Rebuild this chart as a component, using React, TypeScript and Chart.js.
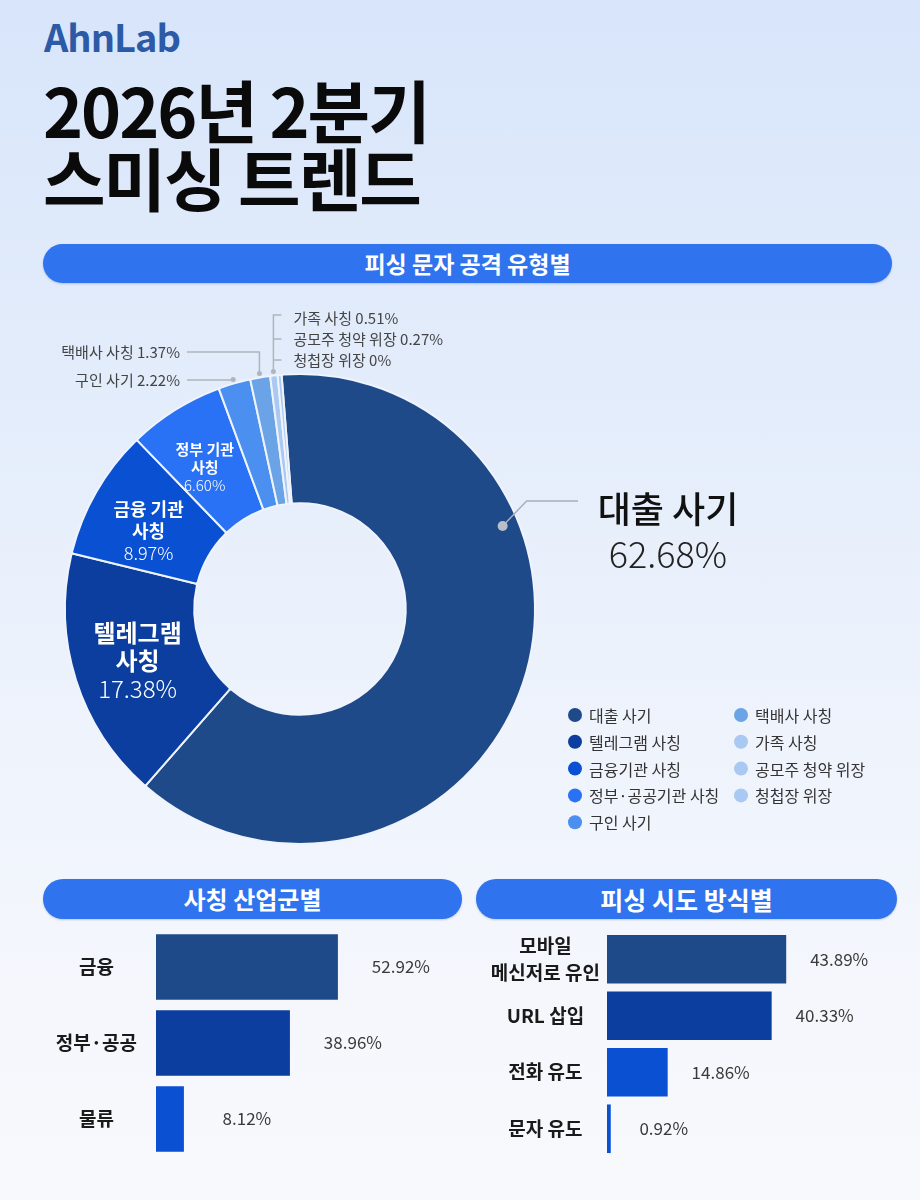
import React, { useEffect, useRef } from 'react';
import { Chart, registerables } from 'chart.js';

Chart.register(...registerables);

const FONT = '"Noto Sans CJK KR", "Noto Sans", sans-serif';

// ---- Data ----
const typeLabels = ['대출 사기', '텔레그램 사칭', '금융기관 사칭', '정부·공공기관 사칭', '구인 사기', '택배사 사칭', '가족 사칭', '공모주 청약 위장', '청첩장 위장'];
const typeValues = [62.68, 17.38, 8.97, 6.6, 2.22, 1.37, 0.51, 0.27, 0];
const typeColors = ['#1f4a8a', '#0b3e9e', '#0a50d2', '#2a72f5', '#4b8ff0', '#6aa3e6', '#a9c8f2', '#a9c8f2', '#a9c8f2'];
const sliceLabelLines = [['대출 사기'], ['텔레그램', '사칭'], ['금융 기관', '사칭'], ['정부 기관', '사칭'], ['구인 사기'], ['택배사 사칭'], ['가족 사칭'], ['공모주 청약 위장'], ['청첩장 위장']];

const industryLabels = ['금융', '정부·공공', '물류'];
const industryValues = [52.92, 38.96, 8.12];
const industryColors = ['#1f4a8a', '#0b3e9e', '#0a50d2'];

const methodLabels = [['모바일', '메신저로 유인'], 'URL 삽입', '전화 유도', '문자 유도'];
const methodValues = [43.89, 40.33, 14.86, 0.92];
const methodColors = ['#1f4a8a', '#0b3e9e', '#0a50d2', '#0a50d2'];

const pct = (v: number) => (v === 0 ? '0%' : `${v.toFixed(2)}%`);

// ---- Plugins ----
const donutLabelsPlugin = {
  id: 'donutLabels',
  afterDatasetsDraw(chart: any) {
    const ctx = chart.ctx as CanvasRenderingContext2D;
    const arcs = chart.getDatasetMeta(0).data as any[];
    const values = chart.data.datasets[0].data as number[];
    const outerPt = (arc: any, frac: number, dr: number) => {
      const a = arc.startAngle + (arc.endAngle - arc.startAngle) * frac;
      const r = arc.outerRadius + dr;
      return { x: arc.x + Math.cos(a) * r, y: arc.y + Math.sin(a) * r };
    };
    const ringPt = (arc: any, frac: number, rFrac: number) => {
      const a = arc.startAngle + (arc.endAngle - arc.startAngle) * frac;
      const r = arc.innerRadius + (arc.outerRadius - arc.innerRadius) * rFrac;
      return { x: arc.x + Math.cos(a) * r, y: arc.y + Math.sin(a) * r };
    };
    ctx.save();
    ctx.textBaseline = 'middle';

    // in-slice labels
    const inside = [
      { i: 1, size: 24, lh: 28, f: 0.5 },
      { i: 2, size: 18, lh: 22, f: 0.42 },
      { i: 3, size: 15, lh: 18, f: 0.42 },
    ];
    inside.forEach(({ i, size, lh, f }) => {
      const p = ringPt(arcs[i], f, 0.5);
      const lines = sliceLabelLines[i];
      const n = lines.length + 1;
      let y = p.y - ((n - 1) / 2) * lh;
      ctx.fillStyle = '#ffffff';
      ctx.textAlign = 'center';
      lines.forEach((t) => {
        ctx.font = `bold ${size}px ${FONT}`;
        ctx.fillText(t, p.x, y);
        y += lh;
      });
      ctx.font = `300 ${size}px ${FONT}`;
      ctx.fillText(pct(values[i]), p.x, y);
    });

    // big label for the first slice
    const d = outerPt(arcs[0], 0.32, -16);
    ctx.strokeStyle = '#a9afb9';
    ctx.lineWidth = 1.5;
    ctx.beginPath();
    ctx.moveTo(d.x, d.y);
    ctx.lineTo(d.x + 24, d.y - 25);
    ctx.lineTo(578, d.y - 25);
    ctx.stroke();
    ctx.fillStyle = '#b9bfc9';
    ctx.beginPath();
    ctx.arc(d.x, d.y, 5, 0, Math.PI * 2);
    ctx.fill();
    ctx.fillStyle = '#111111';
    ctx.textAlign = 'center';
    ctx.font = `500 36px ${FONT}`;
    ctx.fillText(sliceLabelLines[0][0], 668, 219);
    ctx.font = `300 36px ${FONT}`;
    ctx.fillStyle = '#222222';
    ctx.fillText(pct(values[0]), 668, 264);

    // callouts for small slices (left side)
    const callout = (i: number, ty: number) => {
      const o = outerPt(arcs[i], 0.5, 4);
      ctx.strokeStyle = '#b0b5bd';
      ctx.lineWidth = 1.5;
      ctx.beginPath();
      ctx.moveTo(187, ty);
      ctx.lineTo(o.x, ty);
      ctx.lineTo(o.x, o.y);
      ctx.stroke();
      ctx.fillStyle = '#b0b5bd';
      ctx.beginPath();
      ctx.arc(o.x, o.y, 2.5, 0, Math.PI * 2);
      ctx.fill();
      ctx.fillStyle = '#444444';
      ctx.textAlign = 'right';
      ctx.font = `15px ${FONT}`;
      ctx.fillText(`${sliceLabelLines[i][0]} ${pct(values[i])}`, 180, ty);
    };
    callout(4, 90);
    callout(5, 62);

    // bracket callout for the tiniest slices
    const b = outerPt(arcs[6], 0.5, 4);
    const rows = [28, 49, 70];
    ctx.strokeStyle = '#b0b5bd';
    ctx.lineWidth = 1.5;
    ctx.beginPath();
    ctx.moveTo(b.x + 8, rows[0] - 3);
    ctx.lineTo(b.x, rows[0] - 3);
    ctx.lineTo(b.x, b.y);
    ctx.moveTo(b.x, rows[1]);
    ctx.lineTo(b.x + 8, rows[1]);
    ctx.moveTo(b.x, rows[2]);
    ctx.lineTo(b.x + 8, rows[2]);
    ctx.stroke();
    ctx.fillStyle = '#b0b5bd';
    ctx.beginPath();
    ctx.arc(b.x, b.y, 2.5, 0, Math.PI * 2);
    ctx.fill();
    ctx.fillStyle = '#444444';
    ctx.textAlign = 'left';
    ctx.font = `15px ${FONT}`;
    [6, 7, 8].forEach((i, k) => {
      ctx.fillText(`${sliceLabelLines[i][0]} ${pct(values[i])}`, b.x + 20, rows[k]);
    });

    // legend
    const colors = chart.data.datasets[0].backgroundColor as string[];
    (chart.data.labels as string[]).forEach((lab, i) => {
      const col = i < 5 ? 0 : 1;
      const row = i < 5 ? i : i - 5;
      const dx = col === 0 ? 575 : 741;
      const dy = 425 + row * 26.8;
      ctx.fillStyle = colors[i];
      ctx.beginPath();
      ctx.arc(dx, dy, 7, 0, Math.PI * 2);
      ctx.fill();
      ctx.fillStyle = '#333333';
      ctx.textAlign = 'left';
      ctx.font = `16px ${FONT}`;
      ctx.fillText(lab, dx + 14, dy + 1);
    });
    ctx.restore();
  },
};

const valueLabelsPlugin = {
  id: 'valueLabels',
  afterDatasetsDraw(chart: any, _args: any, opts: any) {
    const ctx = chart.ctx as CanvasRenderingContext2D;
    const bars = chart.getDatasetMeta(0).data as any[];
    const values = chart.data.datasets[0].data as number[];
    ctx.save();
    ctx.fillStyle = '#3a3a3a';
    ctx.font = `17px ${FONT}`;
    ctx.textAlign = 'center';
    ctx.textBaseline = 'middle';
    bars.forEach((bar, i) => {
      ctx.fillText(pct(values[i]), bar.x + (opts.offset || 50), bar.y);
    });
    ctx.restore();
  },
};

// ---- Components ----
function Donut() {
  const ref = useRef<HTMLCanvasElement>(null);
  useEffect(() => {
    if (!ref.current) return;
    const chart = new Chart(ref.current, {
      type: 'doughnut',
      data: {
        labels: typeLabels,
        datasets: [
          {
            data: typeValues,
            backgroundColor: typeColors,
            borderColor: '#eef3fc',
            borderWidth: 2,
            borderRadius: 2,
          },
        ],
      },
      options: {
        animation: false,
        responsive: true,
        maintainAspectRatio: false,
        rotation: -4.5,
        cutout: '45%',
        layout: { padding: { left: 63, top: 83, right: 383, bottom: 15 } },
        plugins: { legend: { display: false }, tooltip: { enabled: false } },
        events: [],
      },
      plugins: [donutLabelsPlugin],
    } as any);
    return () => chart.destroy();
  }, []);
  return (
    <div style={{ position: 'absolute', left: 0, top: 290, width: 920, height: 570 }}>
      <canvas ref={ref} />
    </div>
  );
}

function HBar(props: {
  labels: any[];
  values: number[];
  colors: string[];
  max: number;
  axisWidth: number;
  tickPad: number;
  padding: any;
  offset: number;
  left: number;
  top: number;
  width: number;
  height: number;
}) {
  const ref = useRef<HTMLCanvasElement>(null);
  useEffect(() => {
    if (!ref.current) return;
    const chart = new Chart(ref.current, {
      type: 'bar',
      data: {
        labels: props.labels,
        datasets: [
          {
            data: props.values,
            backgroundColor: props.colors,
            barPercentage: 0.86,
            categoryPercentage: 1,
          },
        ],
      },
      options: {
        indexAxis: 'y',
        animation: false,
        responsive: true,
        maintainAspectRatio: false,
        layout: { padding: props.padding },
        events: [],
        plugins: {
          legend: { display: false },
          tooltip: { enabled: false },
          valueLabels: { offset: props.offset },
        },
        scales: {
          x: { display: false, min: 0, max: props.max },
          y: {
            grid: { display: false, drawTicks: false },
            border: { display: false },
            ticks: {
              color: '#1a1a1a',
              crossAlign: 'center',
              padding: props.tickPad,
              font: { family: FONT, size: 19, weight: 'bold', lineHeight: 1.4 },
            },
            afterFit: (s: any) => {
              s.width = props.axisWidth;
              s.paddingTop = 0;
              s.paddingBottom = 0;
            },
          },
        },
      },
      plugins: [valueLabelsPlugin],
    } as any);
    return () => chart.destroy();
  }, []);
  return (
    <div style={{ position: 'absolute', left: props.left, top: props.top, width: props.width, height: props.height }}>
      <canvas ref={ref} />
    </div>
  );
}

function Pill(props: { left: number; top: number; width: number; height: number; text: string; size: number }) {
  return (
    <div
      style={{
        position: 'absolute',
        left: props.left,
        top: props.top,
        width: props.width,
        height: props.height,
        borderRadius: props.height / 2,
        background: '#2f73ef',
        color: '#ffffff',
        fontWeight: 700,
        fontSize: props.size,
        lineHeight: `${props.height}px`,
        textAlign: 'center',
        boxShadow: '0 1px 2px rgba(40,80,160,0.25)',
      }}
    >
      {props.text}
    </div>
  );
}

export default function App() {
  return (
    <div
      style={{
        position: 'absolute',
        left: 0,
        top: 0,
        width: 920,
        height: 1200,
        overflow: 'hidden',
        fontFamily: FONT,
        background: 'linear-gradient(180deg, #d8e5fa 0%, #e4edfb 35%, #eef3fc 60%, #f5f7fc 85%, #f8f9fc 100%)',
      }}
    >
      <div style={{ position: 'absolute', left: 44, top: 17, fontSize: 38, lineHeight: '38px', fontWeight: 700, color: '#2c5aa6', letterSpacing: -1 }}>
        AhnLab
      </div>
      <div style={{ position: 'absolute', left: 43, top: 75, fontSize: 68, lineHeight: '68px', fontWeight: 700, color: '#0a0a0a', letterSpacing: -2 }}>
        2026년 2분기
        <br />
        스미싱 트렌드
      </div>
      <Pill left={43} top={244} width={849} height={39} text="피싱 문자 공격 유형별" size={23} />
      <Donut />
      <Pill left={43} top={879} width={419} height={40} text="사칭 산업군별" size={24} />
      <Pill left={476} top={879} width={421} height={40} text="피싱 시도 방식별" size={25} />
      <HBar
        labels={industryLabels}
        values={industryValues}
        colors={industryColors}
        max={80}
        axisWidth={126}
        tickPad={19}
        padding={{ left: 0, right: 29, top: 9, bottom: 8 }}
        offset={63}
        left={30}
        top={920}
        width={430}
        height={245}
      />
      <HBar
        labels={methodLabels}
        values={methodValues}
        colors={methodColors}
        max={60}
        axisWidth={137}
        tickPad={7}
        padding={{ left: 0, right: 48, top: 11, bottom: 8 }}
        offset={53}
        left={470}
        top={920}
        width={430}
        height={245}
      />
    </div>
  );
}
